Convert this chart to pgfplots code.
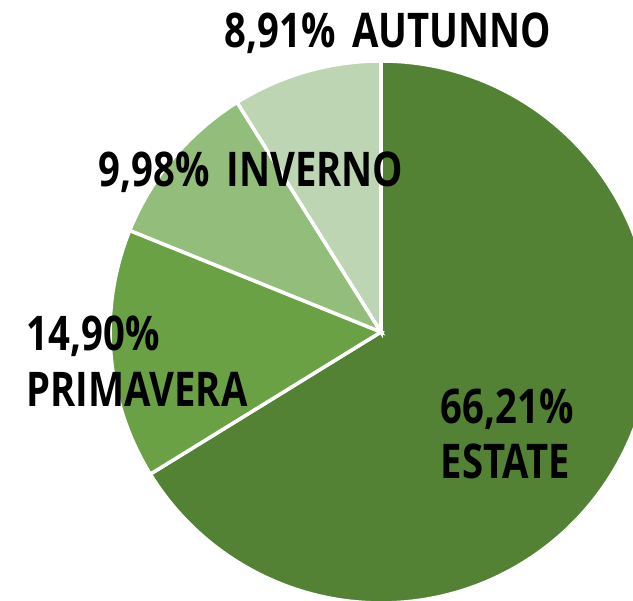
\documentclass[border=0pt]{standalone}
\usepackage{pgfplots}
\pgfplotsset{compat=1.18}
\usepackage{pgfplotstable}
\usepackage{fontspec}
\setmainfont{Open Sans}[FakeStretch=0.8]

\definecolor{cEst}{HTML}{548235}
\definecolor{cPri}{HTML}{6AA144}
\definecolor{cInv}{HTML}{93BD7B}
\definecolor{cAut}{HTML}{BDD5B3}

% share per stagione (%), in senso orario dalle ore 12
\pgfplotstableread{
name      value
ESTATE    66.21
PRIMAVERA 14.90
INVERNO   9.98
AUTUNNO   8.91
}\pietable

\begin{document}
\begin{tikzpicture}
% angoli cumulati dai valori della tabella
\pgfplotstablegetelem{0}{value}\of\pietable \let\vA\pgfplotsretval
\pgfplotstablegetelem{1}{value}\of\pietable \let\vB\pgfplotsretval
\pgfplotstablegetelem{2}{value}\of\pietable \let\vC\pgfplotsretval
\pgfplotstablegetelem{3}{value}\of\pietable \let\vD\pgfplotsretval
\pgfmathsetmacro\aA{90-3.6*\vA}
\pgfmathsetmacro\aB{\aA-3.6*\vB}
\pgfmathsetmacro\aC{\aB-3.6*\vC}
\pgfmathsetmacro\aD{\aC-3.6*\vD}
\begin{axis}[
    name=ax,
    width=6.33cm, height=6.01cm,
    scale only axis,
    xmin=-381, xmax=252,
    ymin=-269, ymax=332,
    hide axis,
    clip=false,
]
\def\R{271}
\filldraw[fill=cEst, draw=white, line width=1pt] (axis cs:0,0) -- (axis cs:0,\R) arc[start angle=90, end angle=\aA, radius=\R] -- cycle;
\filldraw[fill=cPri, draw=white, line width=1pt] (axis cs:0,0) -- ({axis cs:{\R*cos(\aA)},{\R*sin(\aA)}}) arc[start angle=\aA, end angle=\aB, radius=\R] -- cycle;
\filldraw[fill=cInv, draw=white, line width=1pt] (axis cs:0,0) -- ({axis cs:{\R*cos(\aB)},{\R*sin(\aB)}}) arc[start angle=\aB, end angle=\aC, radius=\R] -- cycle;
\filldraw[fill=cAut, draw=white, line width=1pt] (axis cs:0,0) -- ({axis cs:{\R*cos(\aC)},{\R*sin(\aC)}}) arc[start angle=\aC, end angle=\aD, radius=\R] -- cycle;

\tikzset{lab/.style={font=\fontsize{13.6}{15.9}\selectfont\bfseries, inner sep=0pt, align=left}}
\node[lab] at (axis cs:7,299) {8,91\%\hspace{0.35em}AUTUNNO};
\node[lab] at (axis cs:-130,160) {9,98\%\hspace{0.35em}INVERNO};
\node[lab, anchor=west] at (axis cs:-355,-29) {14,90\%\\PRIMAVERA};
\node[lab, anchor=west] at (axis cs:59,-102) {66,21\%\\ESTATE};
\end{axis}
\pgfresetboundingbox
\path (ax.south west) rectangle (ax.north east);
\end{tikzpicture}
\end{document}
